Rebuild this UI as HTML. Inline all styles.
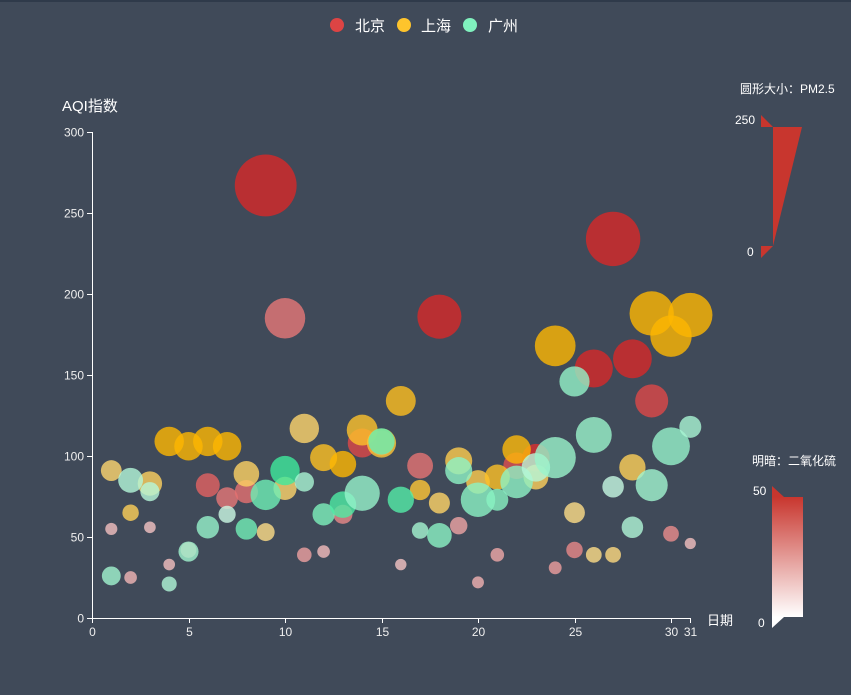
<!DOCTYPE html>
<html><head><meta charset="utf-8"><style>
html,body{margin:0;padding:0;background:#404a59;}
svg{display:block;font-family:"Liberation Sans","Noto Sans CJK SC",sans-serif;}
</style></head><body>
<svg id="s" width="851" height="695" xmlns="http://www.w3.org/2000/svg">
<rect width="851" height="695" fill="#404a59"/>
<rect width="851" height="2" fill="#2f3a4a"/>
<defs><linearGradient id="g" x1="0" y1="0" x2="0" y2="1"><stop offset="0" stop-color="#c8362e"/><stop offset="1" stop-color="#ffffff"/></linearGradient></defs>
<g font-size="15" fill="#fff">
<circle cx="337" cy="25" r="7" fill="#dd4444"/><text x="355" y="31">北京</text>
<circle cx="404" cy="25" r="7" fill="#fec42c"/><text x="421" y="31">上海</text>
<circle cx="470" cy="25" r="7" fill="#80F1BE"/><text x="488" y="31">广州</text>
</g>
<text x="62" y="111" font-size="15" fill="#fff">AQI指数</text>
<text x="707" y="625" font-size="13" fill="#fff">日期</text>
<g id="axes" stroke="#fff" stroke-width="1"></g>
<g id="labels" font-size="12" fill="#eee"></g>
<g id="pts"></g>
<g font-size="12" fill="#fff">
<text x="740" y="93">圆形大小：PM2.5</text>
<text x="735" y="124">250</text>
<text x="747" y="256">0</text>
<polygon points="761,115 773,127 761,127" fill="#c8362e"/>
<polygon points="773,127 802,127 773,246" fill="#c8362e"/>
<polygon points="761,246 773,246 761,258" fill="#c8362e"/>
<text x="752" y="465">明暗：二氧化硫</text>
<text x="753" y="495">50</text>
<text x="758" y="627">0</text>
<polygon points="772,486 784,497 772,497" fill="#c8362e"/>
<rect x="772" y="497" width="31" height="120" fill="url(#g)"/>
<polygon points="772,617 784,617 772,628" fill="#fff"/>
</g>
</svg>
<script>
var NS="http://www.w3.org/2000/svg";
function el(p,t,a,txt){var e=document.createElementNS(NS,t);for(var k in a)e.setAttribute(k,a[k]);if(txt!=null)e.textContent=txt;document.getElementById(p).appendChild(e);return e;}
var x0=92,xs=(671-92)/30,y0=618,ys=(618-132)/300;
function X(v){return x0+v*xs}function Y(v){return y0-v*ys}
el("axes","line",{x1:92.5,y1:132,x2:92.5,y2:618.5});
el("axes","line",{x1:92,y1:618.5,x2:691,y2:618.5});
for(var v=0;v<=300;v+=50){var y=Math.round(Y(v))+0.5;el("axes","line",{x1:87,y1:y,x2:92,y2:y});el("labels","text",{x:84,y:y+4,"text-anchor":"end"},v);}
[0,5,10,15,20,25,30,31].forEach(function(v){var x=Math.round(X(v))+0.5;el("axes","line",{x1:x,y1:618,x2:x,y2:623});el("labels","text",{x:x,y:636,"text-anchor":"middle"},v);});
var BJ=[[1,55,9,6],[2,25,11,9],[3,56,7,5],[4,33,7,6],[5,42,24,16],[6,82,58,33],[7,74,49,27],[8,78,55,29],[9,267,216,64],[10,185,127,27],[11,39,19,15],[12,41,11,7],[13,64,38,22],[14,108,79,41],[15,108,63,26],[16,33,6,5],[17,94,66,28],[18,186,142,79],[19,57,31,14],[20,22,8,10],[21,39,15,13],[22,94,69,39],[23,99,73,48],[24,31,12,16],[25,42,27,22],[26,154,117,58],[27,234,185,69],[28,160,120,50],[29,134,96,41],[30,52,24,21],[31,46,5,6]];
var SH=[[1,91,45,23],[2,65,27,29],[3,83,60,27],[4,109,81,51],[5,106,77,51],[6,109,81,51],[7,106,77,51],[8,89,65,26],[9,53,33,17],[10,80,55,24],[11,117,81,24],[12,99,71,42],[13,95,69,50],[14,116,87,40],[15,108,80,37],[16,134,83,43],[17,79,43,37],[18,71,46,25],[19,97,71,31],[20,84,57,31],[21,87,63,41],[22,104,77,48],[23,87,62,28],[24,168,128,56],[25,65,45,17],[26,39,24,17],[27,39,24,19],[28,93,68,29],[29,188,143,51],[30,174,131,50],[31,187,143,53]];
var GZ=[[1,26,37,13],[2,85,62,8],[3,78,38,7],[4,21,21,9],[5,41,42,13],[6,56,52,16],[7,64,30,2],[8,55,48,26],[9,76,85,27],[10,91,81,40],[11,84,39,11],[12,64,51,23],[13,70,69,36],[14,77,105,16],[15,109,68,29],[16,73,68,34],[17,54,27,12],[18,51,61,19],[19,91,71,18],[20,73,102,19],[21,73,50,20],[22,84,94,18],[23,93,77,7],[24,99,130,15],[25,146,84,17],[26,113,108,15],[27,81,48,3],[28,56,48,9],[29,82,92,13],[30,106,116,16],[31,118,50,11]];
function draw(d,h,s){d.forEach(function(p){var r=(10+60*Math.min(p[2],250)/250)/2;var l=90-40*Math.min(p[3],50)/50;
el("pts","circle",{cx:X(p[0]),cy:Y(p[1]),r:r,fill:"hsl("+h+","+s+"%,"+l+"%)","fill-opacity":0.8});});}
draw(BJ,0,69);draw(SH,43,99);draw(GZ,153,80);
</script>
</body></html>
